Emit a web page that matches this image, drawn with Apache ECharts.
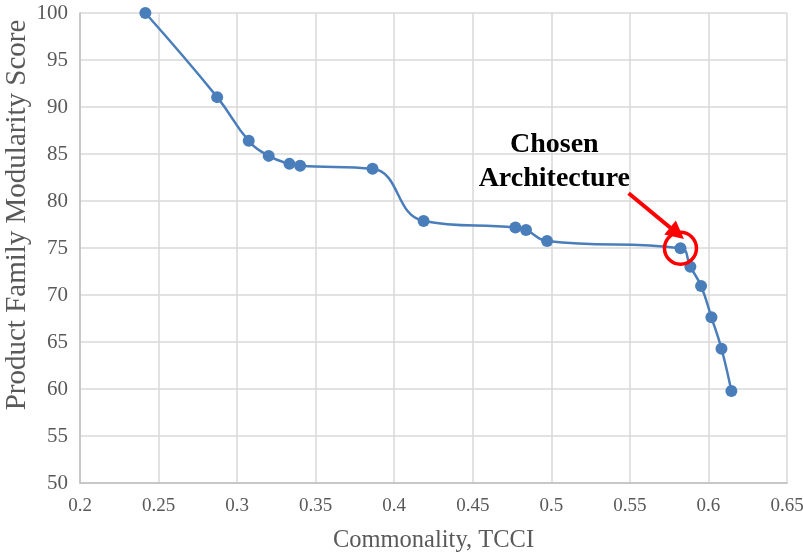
<!DOCTYPE html>
<html>
<head>
<meta charset="utf-8">
<script src="https://cdn.jsdelivr.net/npm/echarts@6/dist/echarts.min.js"></script>
<style>
html,body{margin:0;padding:0;background:#fff;}
#chart{width:803px;height:552px;}
</style>
</head>
<body>
<div id="chart"></div>
<script>
// Data
const tcci = [0.2416, 0.2873, 0.3074, 0.3201, 0.3333, 0.3401, 0.3862, 0.4187, 0.4771, 0.4839, 0.4973, 0.5822, 0.5885, 0.5953, 0.6019, 0.6083, 0.6146];
const modularity = [100, 91.05, 86.4, 84.8, 83.95, 83.74, 83.42, 77.88, 77.17, 76.92, 75.75, 74.97, 73.0, 70.96, 67.63, 64.28, 59.78];
const xTicks = [0.2, 0.25, 0.3, 0.35, 0.4, 0.45, 0.5, 0.55, 0.6, 0.65];
const yTicks = [50, 55, 60, 65, 70, 75, 80, 85, 90, 95, 100];
const xTitle = 'Commonality, TCCI';
const yTitle = 'Product Family Modularity Score';
const chosenIndex = 11;
const annotationText = ['Chosen', 'Architecture'];
const annotationAnchor = [0.5019, 84.2];
const arrowFrom = [0.5492, 80.83];
const arrowTo = [0.5800, 76.57];

const FONT = "'Liberation Serif', 'Times New Roman', serif";
const points = tcci.map((x, i) => [x, modularity[i]]);

const chart = echarts.init(document.getElementById('chart'), null, {renderer: 'canvas'});
chart.setOption({
  animation: false,
  backgroundColor: '#ffffff',
  grid: {left: 80, right: 16, top: 13, bottom: 69, containLabel: false, outerBoundsMode: 'none'},
  graphic: [{
    type: 'text',
    x: 17.5, y: 215,
    rotation: Math.PI / 2,
    style: {text: yTitle, fontFamily: FONT, fontSize: 29, fill: '#595959',
      align: 'center', verticalAlign: 'middle'}
  }],
  xAxis: {
    type: 'value',
    min: xTicks[0], max: xTicks[xTicks.length - 1], interval: 0.05,
    name: xTitle, nameLocation: 'middle', nameGap: 45,
    nameTextStyle: {fontFamily: FONT, fontSize: 24.5, color: '#595959'},
    axisLine: {show: true, lineStyle: {color: '#bfbfbf', width: 1.5}},
    axisTick: {show: false},
    axisLabel: {fontFamily: FONT, fontSize: 19, color: '#595959', margin: 14,
      formatter: v => String(parseFloat(v.toFixed(2)))},
    splitLine: {show: true, lineStyle: {color: '#d9d9d9', width: 1.5}}
  },
  yAxis: {
    type: 'value',
    min: yTicks[0], max: yTicks[yTicks.length - 1], interval: 5,
    axisLine: {show: true, lineStyle: {color: '#bfbfbf', width: 1.5}},
    axisTick: {show: false},
    axisLabel: {fontFamily: FONT, fontSize: 21, color: '#595959', margin: 12},
    splitLine: {show: true, lineStyle: {color: '#d9d9d9', width: 1.5}}
  },
  series: [{
    type: 'line',
    data: points,
    smooth: 0.45,
    symbol: 'circle',
    symbolSize: 12,
    lineStyle: {color: '#4a7ebb', width: 2.5},
    itemStyle: {color: '#4a7ebb'},
    markPoint: {
      silent: true,
      data: [
        {coord: points[chosenIndex], symbol: 'circle', symbolSize: 32,
         itemStyle: {color: 'rgba(0,0,0,0)', borderColor: '#ff0000', borderWidth: 3.5},
         label: {show: false}},
        {coord: annotationAnchor, symbol: 'circle', symbolSize: 1,
         itemStyle: {color: 'rgba(0,0,0,0)'},
         label: {show: true, position: 'inside', formatter: annotationText.join('\n'),
           fontFamily: FONT, fontSize: 28, fontWeight: 'bold', color: '#000000', lineHeight: 34, align: 'center'}}
      ]
    },
    markLine: {
      silent: true,
      symbol: ['none', 'triangle'],
      symbolSize: [18, 18],
      label: {show: false},
      lineStyle: {color: '#ff0000', width: 4, type: 'solid'},
      data: [[{coord: arrowFrom}, {coord: arrowTo}]]
    }
  }]
});
</script>
</body>
</html>
